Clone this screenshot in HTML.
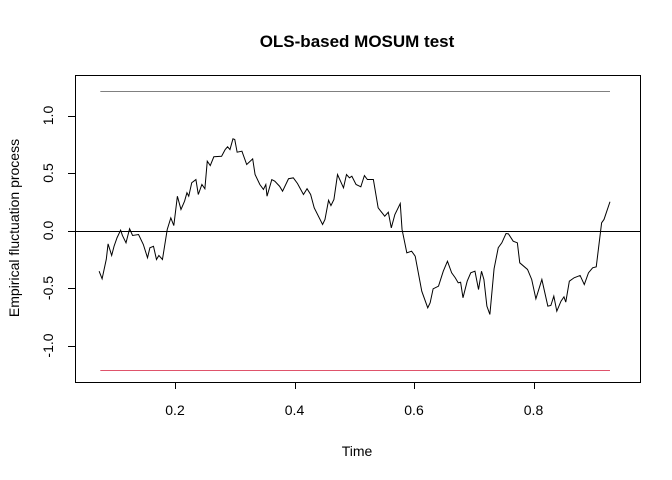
<!DOCTYPE html>
<html><head><meta charset="utf-8"><style>
body{margin:0;background:#fff}
svg{display:block;font-family:"Liberation Sans",Arial,sans-serif}
</style></head><body>
<svg id="chart" width="672" height="480" viewBox="0 0 672 480">
<text x="357" y="47" text-anchor="middle" font-weight="bold" font-size="17">OLS-based MOSUM test</text>
<text x="357" y="456" text-anchor="middle" font-size="14">Time</text>
<text transform="translate(19,228) rotate(-90)" text-anchor="middle" font-size="14">Empirical fluctuation process</text>
<rect x="75.5" y="75.5" width="565" height="307" fill="none" stroke="#000" stroke-width="1"/>
<g id="axes"></g>
<g id="marks"></g>
</svg>
<script>
const times=[.073,.078,.085,.088,.094,.098,.103,.109,.112,.118,.124,.129,.139,.147,.154,.158,.164,.169,.173,.179,.187,.193,.198,.204,.210,.216,.220,.223,.228,.235,.239,.245,.250,.254,.259,.265,.278,.284,.288,.292,.297,.300,.304,.312,.320,.330,.334,.342,.348,.352,.354,.362,.367,.375,.380,.390,.398,.405,.415,.421,.427,.433,.447,.451,.457,.461,.466,.472,.482,.487,.492,.496,.503,.511,.517,.522,.532,.540,.551,.557,.562,.568,.577,.580,.588,.596,.602,.613,.623,.627,.632,.641,.649,.656,.663,.669,.674,.678,.682,.689,.695,.702,.708,.713,.717,.722,.727,.734,.741,.747,.754,.758,.766,.773,.777,.790,.797,.804,.814,.824,.829,.834,.839,.846,.851,.854,.860,.868,.878,.885,.892,.899,.905,.914,.918,.928];
const values=[-.354,-.420,-.25,-.116,-.217,-.137,-.063,.003,-.043,-.107,.015,-.043,-.035,-.122,-.237,-.150,-.137,-.252,-.217,-.252,.009,.110,.043,.298,.183,.255,.328,.298,.415,.443,.313,.400,.363,.603,.565,.641,.646,.704,.728,.704,.797,.791,.681,.690,.574,.623,.487,.400,.357,.400,.298,.443,.429,.385,.342,.450,.458,.409,.313,.363,.313,.197,.052,.096,.263,.217,.270,.487,.371,.487,.458,.472,.400,.380,.478,.443,.443,.197,.124,.159,.023,.139,.235,.009,-.194,-.180,-.223,-.528,-.672,-.629,-.507,-.484,-.354,-.267,-.368,-.411,-.455,-.450,-.585,-.441,-.368,-.354,-.513,-.354,-.426,-.658,-.730,-.333,-.150,-.107,-.026,-.029,-.093,-.107,-.281,-.339,-.426,-.594,-.426,-.658,-.652,-.571,-.702,-.615,-.577,-.623,-.441,-.411,-.391,-.470,-.368,-.324,-.316,.067,.096,.25];
const boundary=1.21;
const boundaryRange=[.075,.928];
const xTicks=[0.2,0.4,0.6,0.8];
const xTickLabels=["0.2","0.4","0.6","0.8"];
const yTicks=[-1,-0.5,0,0.5,1];
const yTickLabels=["-1.0","-0.5","0.0","0.5","1.0"];

const NS="http://www.w3.org/2000/svg";
const X=t=>55.5+597.5*t;
const Y=v=>230.5-115*v;
function mk(tag,attrs,parent){const e=document.createElementNS(NS,tag);for(const k in attrs)e.setAttribute(k,attrs[k]);parent.appendChild(e);return e;}
const axes=document.getElementById('axes'),marks=document.getElementById('marks');
xTicks.forEach((t,i)=>{
  const l=mk('line',{x1:Math.round(X(t))+0.5,x2:Math.round(X(t))+0.5,y1:382.5,y2:389,stroke:'#000'},axes);
  
  
  const tx=mk('text',{x:X(t),y:415,'text-anchor':'middle','font-size':14},axes);
  tx.textContent=xTickLabels[i];
  
  
});
yTicks.forEach((v,i)=>{
  const l=mk('line',{x1:68,x2:75.5,y1:Math.round(Y(v))+0.5,y2:Math.round(Y(v))+0.5,stroke:'#000'},axes);
  
  
  const tx=mk('text',{transform:`translate(53,${Y(v)}) rotate(-90)`,'text-anchor':'middle','font-size':14},axes);
  tx.textContent=yTickLabels[i];
  
  
});
const zl=mk('line',{x1:75,x2:640,y1:Math.round(Y(0))+0.5,y2:Math.round(Y(0))+0.5,stroke:'#000'},marks);


const ub=mk('line',{x1:X(boundaryRange[0]),x2:X(boundaryRange[1]),y1:Math.round(Y(boundary))+0.5,y2:Math.round(Y(boundary))+0.5,stroke:'#808080'},marks);


const lb=mk('line',{x1:X(boundaryRange[0]),x2:X(boundaryRange[1]),y1:Math.round(Y(-boundary))+0.5,y2:Math.round(Y(-boundary))+0.5,stroke:'#DF536B'},marks);


const p=mk('polyline',{points:times.map((t,i)=>X(t)+','+Y(values[i])).join(' '),fill:'none',stroke:'#000','stroke-width':1},marks);


</script>
</body></html>
